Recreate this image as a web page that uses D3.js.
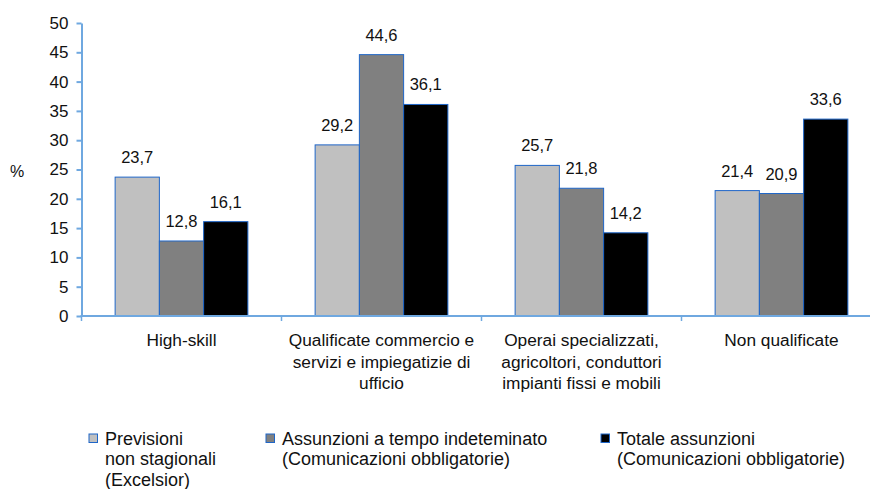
<!DOCTYPE html>
<html>
<head>
<meta charset="utf-8">
<script src="https://cdn.jsdelivr.net/npm/d3@7"></script>
<style>
  body { margin: 0; background: #fff; }
  svg text { font-family: "Liberation Sans", Arial, sans-serif; fill: #111; }
</style>
</head>
<body>
<div id="chart-container"></div>
<script>
// Data
const categories = [
  ["High-skill"],
  ["Qualificate commercio e", "servizi e impiegatizie di", "ufficio"],
  ["Operai specializzati,", "agricoltori, conduttori", "impianti fissi e mobili"],
  ["Non qualificate"]
];
const seriesNames = [
  ["Previsioni", "non stagionali", "(Excelsior)"],
  ["Assunzioni a tempo indeteminato", "(Comunicazioni obbligatorie)"],
  ["Totale assunzioni", "(Comunicazioni obbligatorie)"]
];
const previsioni = [23.7, 29.2, 25.7, 21.4];
const indeterminato = [12.8, 44.6, 21.8, 20.9];
const totale = [16.1, 36.1, 14.2, 33.6];
const yTicks = [0, 5, 10, 15, 20, 25, 30, 35, 40, 45, 50];

const series = [previsioni, indeterminato, totale];
const colors = ["#c0c0c0", "#808080", "#000000"];
const axisColor = "#6fa8e0";
const barStroke = "#1f66c8";

const svg = d3.select("#chart-container")
  .append("svg")
  .attr("width", 870)
  .attr("height", 489);

// plot area
const plotLeft = 81.5, plotTop = 23, plotBottom = 316;
const x0 = d3.scaleBand()
  .domain(d3.range(categories.length))
  .range([plotLeft, plotLeft + 800]);

const x1 = d3.scaleBand()
  .domain(d3.range(series.length))
  .range([0, x0.bandwidth()])
  .paddingOuter(0.76);

const y = d3.scaleLinear()
  .domain([0, 50])
  .range([plotBottom, plotTop]);

// bars
series.forEach((vals, s) => {
  svg.append("g")
    .selectAll("rect")
    .data(vals)
    .join("rect")
    .attr("x", (d, i) => x0(i) + x1(s))
    .attr("y", d => y(d))
    .attr("width", x1.bandwidth())
    .attr("height", d => y(0) - y(d))
    .attr("fill", colors[s])
    .attr("stroke", barStroke)
    .attr("stroke-width", 1);

  // value labels
  svg.append("g")
    .selectAll("text")
    .data(vals)
    .join("text")
    .attr("x", (d, i) => x0(i) + x1(s) + x1.bandwidth() / 2)
    .attr("y", d => y(d) - 14)
    .attr("text-anchor", "middle")
    .style("font-size", "16.5px")
    .text(d => d.toFixed(1).replace(".", ","));
});

// y axis
svg.append("g")
  .attr("transform", `translate(${plotLeft},0)`)
  .call(d3.axisLeft(y)
    .tickValues(yTicks)
    .tickSize(5)
    .tickSizeOuter(0)
    .tickPadding(8))
  .call(g => g.selectAll("line, path").attr("stroke", axisColor).attr("stroke-width", 2))
  .selectAll(".tick text")
  .attr("fill", "#111")
  .style("font-size", "17px")
  .style("font-family", "'Liberation Sans', Arial, sans-serif");

// x axis
svg.append("line")
  .attr("x1", plotLeft - 1)
  .attr("x2", 870)
  .attr("y1", y(0))
  .attr("y2", y(0))
  .attr("stroke", axisColor)
  .attr("stroke-width", 2);

svg.selectAll(".xtick")
  .data(d3.range(categories.length))
  .join("line")
  .attr("x1", d => x0(d))
  .attr("x2", d => x0(d))
  .attr("y1", y(0))
  .attr("y2", y(0) + 5)
  .attr("stroke", axisColor)
  .attr("stroke-width", 1.5);

// category labels
categories.forEach((lines, i) => {
  const t = svg.append("text")
    .attr("text-anchor", "middle")
    .style("font-size", "17.3px");
  lines.forEach((ln, k) => {
    t.append("tspan")
      .attr("x", x0(i) + x0.bandwidth() / 2)
      .attr("y", 346 + k * 21.5)
      .text(ln);
  });
});

// y label
svg.append("text")
  .attr("x", 10)
  .attr("y", 177)
  .style("font-size", "16px")
  .text("%");

// legend
const legendX = [89, 266, 601];
seriesNames.forEach((lines, s) => {
  svg.append("rect")
    .attr("x", legendX[s])
    .attr("y", 434)
    .attr("width", 8.5)
    .attr("height", 8.5)
    .attr("fill", colors[s])
    .attr("stroke", barStroke)
    .attr("stroke-width", 1);
  const t = svg.append("text")
    .style("font-size", "18px");
  lines.forEach((ln, k) => {
    t.append("tspan")
      .attr("x", legendX[s] + 16)
      .attr("y", 445 + k * 20.3)
      .text(ln);
  });
});
</script>
</body>
</html>
